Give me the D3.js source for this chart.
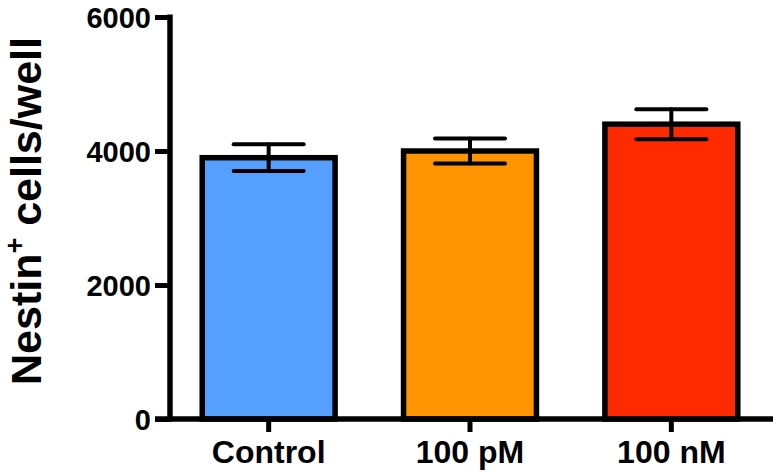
<!DOCTYPE html>
<html>
<head>
<meta charset="utf-8">
<script src="https://cdn.jsdelivr.net/npm/d3@7"></script>
<style>
  html, body { margin: 0; padding: 0; background: #fff; }
  svg { display: block; }
  text { font-family: "Liberation Sans", Arial, Helvetica, sans-serif; font-weight: bold; fill: #000; }
</style>
</head>
<body>
<svg id="chart" width="773" height="474"></svg>
<script>
const categories = ["Control", "100 pM", "100 nM"];
const means = [3900, 4000, 4400];
const errors = [200, 185, 225];
const colors = ["#55A0FF", "#FF9400", "#FF2A00"];
const yTicks = [0, 2000, 4000, 6000];

const svg = d3.select("#chart");
const x0 = 168, x1 = 772, yTop = 17, yBottom = 419, axisX = 170;

const x = d3.scaleBand().domain(categories).range([x0, x1]).paddingInner(0.34).paddingOuter(0.17);
const y = d3.scaleLinear().domain([0, 6000]).range([yBottom, yTop]);

// bars
svg.append("g").selectAll("rect").data(categories).join("rect")
  .attr("x", d => x(d))
  .attr("y", (d, i) => y(means[i]))
  .attr("width", x.bandwidth())
  .attr("height", (d, i) => yBottom - y(means[i]))
  .attr("fill", (d, i) => colors[i])
  .attr("stroke", "#000")
  .attr("stroke-width", 5.5);

// error bars
const capHalf = 35;
const eg = svg.append("g").attr("stroke", "#000").attr("stroke-width", 4).attr("stroke-linecap", "round");
categories.forEach((c, i) => {
  const cx = x(c) + x.bandwidth() / 2;
  const hi = y(means[i] + errors[i]), lo = y(means[i] - errors[i]);
  eg.append("line").attr("x1", cx).attr("x2", cx).attr("y1", hi).attr("y2", lo);
  eg.append("line").attr("x1", cx - capHalf).attr("x2", cx + capHalf).attr("y1", hi).attr("y2", hi);
  eg.append("line").attr("x1", cx - capHalf).attr("x2", cx + capHalf).attr("y1", lo).attr("y2", lo);
});

// y axis
const yAxis = svg.append("g").attr("transform", `translate(${axisX},0)`)
  .call(d3.axisLeft(y).tickValues(yTicks).tickFormat(d3.format("d")).tickSize(15).tickSizeOuter(0).tickPadding(4));
yAxis.select(".domain").attr("stroke", "#000").attr("stroke-width", 5.5).attr("d", `M0,${yBottom + 2.5}V${yTop - 2.5}`);
yAxis.selectAll(".tick line").attr("stroke", "#000").attr("stroke-width", 5);
yAxis.selectAll(".tick text").attr("font-size", 29).attr("dy", "0.36em")
  .style("font-family", "'Liberation Sans', Arial, sans-serif").style("font-weight", "bold");

// x axis
const xAxis = svg.append("g").attr("transform", `translate(0,${yBottom})`)
  .call(d3.axisBottom(x).tickSize(13).tickSizeOuter(0).tickPadding(8));
xAxis.select(".domain").attr("stroke", "#000").attr("stroke-width", 5.5).attr("d", `M${axisX - 15},0H773`);
xAxis.selectAll(".tick line").attr("stroke", "#000").attr("stroke-width", 5);
xAxis.selectAll(".tick text").attr("font-size", 32)
  .style("font-family", "'Liberation Sans', Arial, sans-serif").style("font-weight", "bold");

// y label
const lab = svg.append("text")
  .attr("transform", "translate(41,211) rotate(-90)")
  .attr("text-anchor", "middle")
  .attr("font-size", 43);
lab.append("tspan").text("Nestin");
lab.append("tspan").attr("font-size", 27).attr("dy", -17).text("+");
lab.append("tspan").attr("dy", 17).text(" cells/well");
</script>
</body>
</html>
